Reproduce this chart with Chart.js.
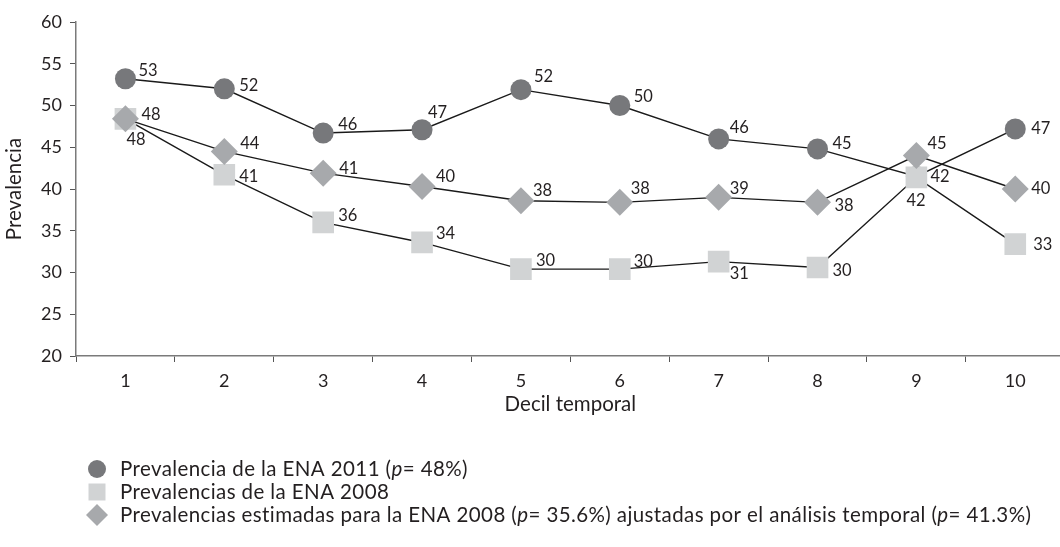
<!DOCTYPE html>
<html>
<head>
<meta charset="utf-8">
<script src="https://cdn.jsdelivr.net/npm/chart.js@4.4.1/dist/chart.umd.min.js"></script>
<style>
  html, body { margin: 0; padding: 0; background: #ffffff; overflow: hidden; }
  #wrap { width: 1080px; height: 547px; }
</style>
</head>
<body>
<div id="wrap"><canvas id="c" width="1080" height="547"></canvas></div>
<script>
// ---- data ----
const deciles = ['1', '2', '3', '4', '5', '6', '7', '8', '9', '10'];
const yTicks = [20, 25, 30, 35, 40, 45, 50, 55, 60];

const ena2011 = [53.2, 52.0, 46.7, 47.1, 51.9, 50.0, 46.0, 44.8, 41.5, 47.2];
const ena2011Labels = ['53', '52', '46', '47', '52', '50', '46', '45', '42', '47'];

const ena2008 = [48.4, 41.7, 36.0, 33.6, 30.4, 30.4, 31.3, 30.6, 41.4, 33.4];
const ena2008Labels = ['48', '41', '36', '34', '30', '30', '31', '30', '42', '33'];

const ena2008Adj = [48.4, 44.5, 41.9, 40.3, 38.6, 38.4, 39.0, 38.4, 44.0, 40.0];
const ena2008AdjLabels = ['48', '44', '41', '40', '38', '38', '39', '38', '45', '40'];

const seriesNames = [
  'Prevalencia de la ENA 2011 (p= 48%)',
  'Prevalencias de la ENA 2008',
  'Prevalencias estimadas para la ENA 2008 (p= 35.6%) ajustadas por el análisis temporal (p= 41.3%)'
];

// ---- styling ----
const FONT = 'Lato, "Open Sans", sans-serif';
const TEXT = '#231f20';
const C_CIRCLE = '#77787b';
const C_SQUARE = '#d1d3d4';
const C_DIAMOND = '#a7a9ac';
const LEGEND_SIZE = 20.5;

// label offsets (dx to left edge of text, dy to text middle), per series
const offCircle = [[13,-8],[15,-3],[15,-8],[6,-17],[13,-13],[14,-9],[11,-11],[15,-5],[14,0],[16,0]];
const offSquare = [[1,21],[15,2],[15,-7],[14,-9],[15,-8],[14,-7],[11,12],[15,3],[-10,23],[18,1]];
const offDiamond = [[16,-4],[16,-8],[16,-4],[14,-10],[12,-10],[11,-14],[11,-9],[17,3],[11,-12],[16,0]];

const labelPlugin = {
  id: 'pointLabels',
  afterDatasetsDraw(chart) {
    const ctx = chart.ctx;
    ctx.save();
    ctx.font = '16.5px ' + FONT;
    ctx.fillStyle = TEXT;
    ctx.textAlign = 'left';
    ctx.textBaseline = 'middle';
    chart.data.datasets.forEach((ds, di) => {
      const meta = chart.getDatasetMeta(di);
      meta.data.forEach((pt, i) => {
        const o = ds.labelOffsets[i];
        ctx.fillText(ds.pointLabels[i], pt.x + o[0], pt.y + o[1]);
      });
    });
    ctx.restore();
  }
};

const legendPlugin = {
  id: 'customLegend',
  afterDraw(chart) {
    const ctx = chart.ctx;
    const x0 = 97, textX = 120, y0 = 469, step = 23;
    ctx.save();
    chart.data.datasets.forEach((ds, i) => {
      const y = y0 + i * step;
      ctx.fillStyle = ds.pointBackgroundColor;
      ctx.beginPath();
      if (ds.pointStyle === 'circle') {
        ctx.arc(x0, y, 9, 0, Math.PI * 2);
      } else if (ds.pointStyle === 'rect') {
        ctx.rect(x0 - 8.5, y - 8.5, 17, 17);
      } else {
        ctx.moveTo(x0, y - 11); ctx.lineTo(x0 + 11, y); ctx.lineTo(x0, y + 11); ctx.lineTo(x0 - 11, y);
        ctx.closePath();
      }
      ctx.fill();
      ctx.fillStyle = TEXT;
      const f = LEGEND_SIZE + 'px ' + FONT;
      ctx.font = f;
      if ('letterSpacing' in ctx) ctx.letterSpacing = '0.4px';
      ctx.textAlign = 'left';
      ctx.textBaseline = 'middle';
      // render "p" in italics inside the legend text
      const parts = ds.label.split(/(\bp=)/);
      let x = textX;
      parts.forEach(part => {
        if (part === 'p=') {
          ctx.font = 'italic ' + f;
          ctx.fillText('p', x, y);
          x += ctx.measureText('p').width;
          ctx.font = f;
          ctx.fillText('=', x, y);
          x += ctx.measureText('=').width;
        } else {
          ctx.fillText(part, x, y);
          x += ctx.measureText(part).width;
        }
      });
    });
    ctx.restore();
  }
};

new Chart(document.getElementById('c'), {
  type: 'line',
  data: {
    labels: deciles,
    datasets: [
      {
        label: seriesNames[0], data: ena2011, pointLabels: ena2011Labels, labelOffsets: offCircle,
        order: 3, borderColor: '#1a1a1a', borderWidth: 1.4,
        pointStyle: 'circle', pointRadius: 10.5, pointHoverRadius: 10.5,
        pointBackgroundColor: C_CIRCLE, pointBorderColor: C_CIRCLE, pointBorderWidth: 0
      },
      {
        label: seriesNames[1], data: ena2008, pointLabels: ena2008Labels, labelOffsets: offSquare,
        order: 2, borderColor: '#1a1a1a', borderWidth: 1.4,
        pointStyle: 'rect', pointRadius: 15.3, pointHoverRadius: 15.3,
        pointBackgroundColor: C_SQUARE, pointBorderColor: C_SQUARE, pointBorderWidth: 0
      },
      {
        label: seriesNames[2], data: ena2008Adj, pointLabels: ena2008AdjLabels, labelOffsets: offDiamond,
        order: 1, borderColor: '#1a1a1a', borderWidth: 1.4,
        pointStyle: 'rectRot', pointRadius: 13.5, pointHoverRadius: 13.5,
        pointBackgroundColor: C_DIAMOND, pointBorderColor: C_DIAMOND, pointBorderWidth: 0
      }
    ]
  },
  options: {
    responsive: false,
    animation: false,
    events: [],
    layout: { padding: { top: 22, right: 8, bottom: 127, left: 0 } },
    plugins: { legend: { display: false }, tooltip: { enabled: false } },
    scales: {
      x: {
        offset: true,
        afterFit(s) { s.height = 64; },
        grid: { display: true, drawOnChartArea: false, offset: true, tickLength: 6, color: '#555', tickWidth: 1 },
        border: { display: true, color: '#7a7a7a', width: 1.5 },
        ticks: { color: TEXT, font: { family: FONT, size: 18 }, padding: 8 },
        title: { display: true, text: 'Decil temporal', color: TEXT, font: { family: FONT, size: 20.5 }, padding: { top: 0, bottom: 3 } }
      },
      y: {
        min: 20, max: 60,
        afterFit(s) { s.width = 76; },
        afterBuildTicks(s) { s.ticks = yTicks.map(v => ({ value: v })); },
        grid: { display: true, drawOnChartArea: false, tickLength: 6, color: '#555', tickWidth: 1 },
        border: { display: true, color: '#7a7a7a', width: 1.5 },
        ticks: { color: TEXT, font: { family: FONT, size: 18 }, padding: 8 },
        title: { display: true, text: 'Prevalencia', color: TEXT, font: { family: FONT, size: 20.5 }, padding: { top: 2, bottom: 0 } }
      }
    }
  },
  plugins: [labelPlugin, legendPlugin]
});
</script>
</body>
</html>
